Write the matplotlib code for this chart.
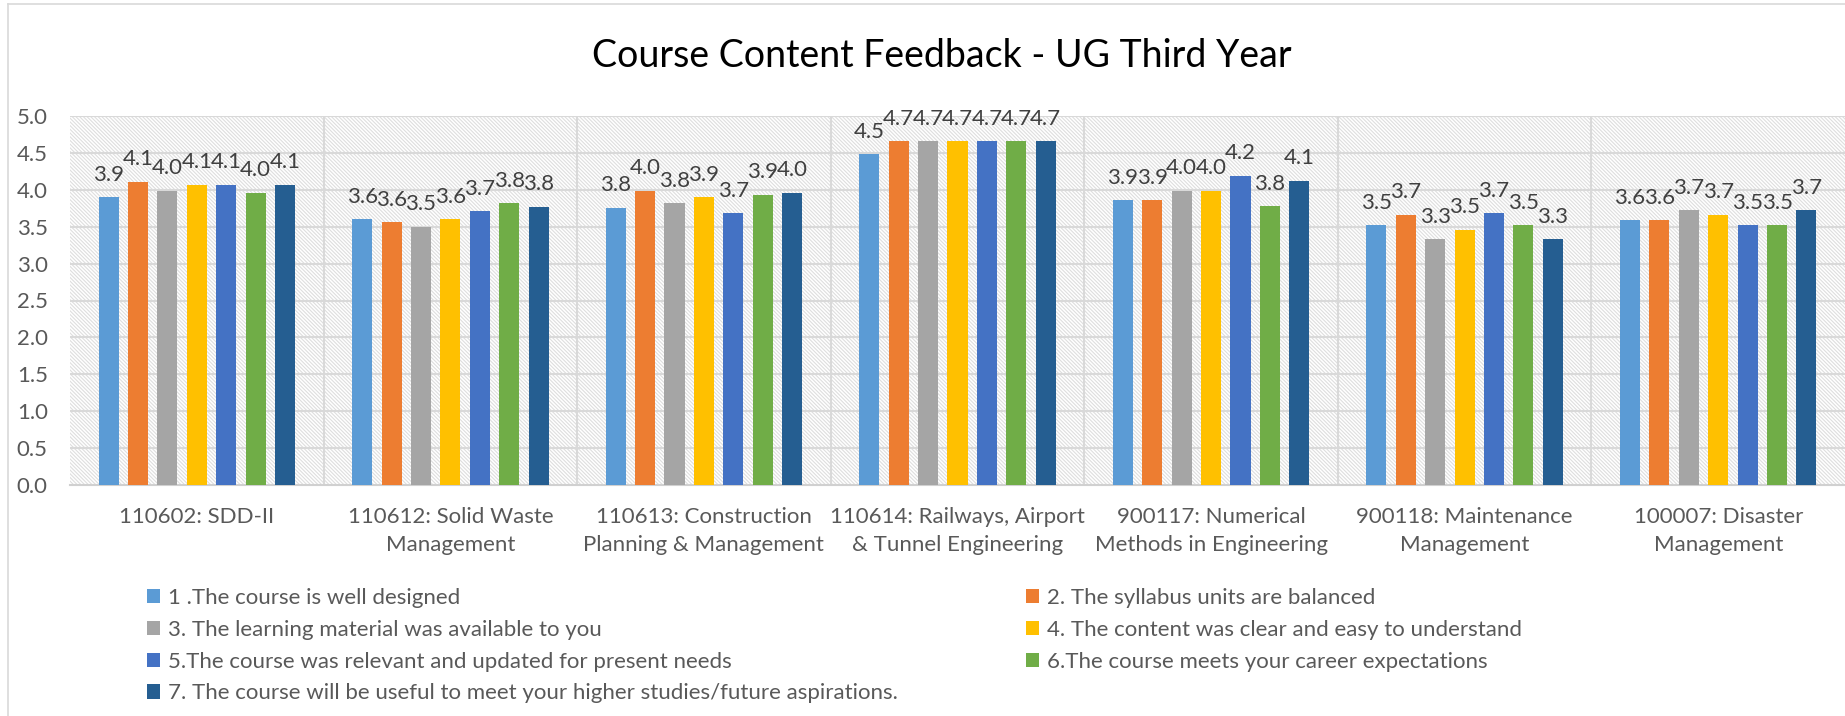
import numpy as np
import matplotlib
matplotlib.use("Agg")
import matplotlib.pyplot as plt
from matplotlib.patches import Rectangle
from matplotlib.lines import Line2D

plt.rcParams['font.family'] = ['Lato', 'DejaVu Sans']
plt.rcParams['hatch.linewidth'] = 0.8

courses = ["110602: SDD-II",
           "110612: Solid Waste\nManagement",
           "110613: Construction\nPlanning & Management",
           "110614: Railways, Airport\n& Tunnel Engineering",
           "900117: Numerical\nMethods in Engineering",
           "900118: Maintenance\nManagement",
           "100007: Disaster\nManagement"]

questions = ["1 .The course is well designed",
             "2. The syllabus units are balanced",
             "3. The learning material was available to you",
             "4. The content was clear and easy to understand",
             "5.The course was relevant and updated for present needs",
             "6.The course meets your career expectations",
             "7. The course will be useful to meet your higher studies/future aspirations."]

q1 = [3.90, 3.60, 3.76, 4.48, 3.86, 3.52, 3.59]
q2 = [4.11, 3.56, 3.99, 4.66, 3.86, 3.66, 3.59]
q3 = [3.99, 3.50, 3.82, 4.66, 3.99, 3.33, 3.72]
q4 = [4.07, 3.60, 3.90, 4.66, 3.99, 3.46, 3.66]
q5 = [4.07, 3.71, 3.68, 4.66, 4.19, 3.68, 3.52]
q6 = [3.96, 3.82, 3.93, 4.66, 3.78, 3.52, 3.52]
q7 = [4.07, 3.77, 3.96, 4.66, 4.12, 3.33, 3.72]
series = [q1, q2, q3, q4, q5, q6, q7]

colors = ["#5B9BD5", "#ED7D31", "#A5A5A5", "#FFC000", "#4472C4", "#70AD47", "#255E91"]

fig = plt.figure(figsize=(18.45, 7.16), dpi=100)
ax = fig.add_axes([70/1845, 1-485/716, 1-70/1845, (485-116)/716])

# hatched plot background
bg = Rectangle((0, 0), 1, 1, transform=ax.transAxes, facecolor="white",
               edgecolor="#dedede", hatch="\\" * 9, linewidth=0, zorder=0)
ax.add_patch(bg)
ax.patch.set_visible(False)

x = np.arange(len(courses))
pitch = 0.116
width = 0.079
for i, (vals, c, q) in enumerate(zip(series, colors, questions)):
    bars = ax.bar(x + (i - 3) * pitch, vals, width, color=c, label=q, zorder=3)
    ax.bar_label(bars, labels=["{:.1f}".format(v) for v in vals], padding=9,
                 fontsize=16, color="#404040")

ax.set_xlim(-0.5, len(courses) - 0.5)
ax.set_ylim(0, 5)
ax.set_yticks(np.arange(0, 5.01, 0.5))
ax.set_yticklabels(["{:.1f}".format(t) for t in np.arange(0, 5.01, 0.5)])
ax.set_xticks(x)
ax.set_xticklabels(courses, linespacing=1.5)
ax.tick_params(axis="y", length=0, pad=16, labelsize=16, labelcolor="#595959")
ax.tick_params(axis="x", length=0, pad=16, labelsize=16, labelcolor="#595959")

for y in np.arange(0.5, 5.01, 0.5):
    ax.axhline(y, color="#d9d9d9", linewidth=1.5, zorder=1)
for b in np.arange(0.5, len(courses) - 0.6, 1):
    ax.axvline(b, color="#d9d9d9", linewidth=1.5, zorder=1)
for s in ["top", "right", "left"]:
    ax.spines[s].set_visible(False)
ax.spines["bottom"].set_color("#d0d0d0")
ax.spines["bottom"].set_linewidth(1.5)

fig.text(942/1845, 1-56/716, "Course Content Feedback - UG Third Year",
         ha="center", va="center", fontsize=27, color="black")

# chart border
fig.add_artist(Line2D([8/1845, 8/1845], [0, 1-4/716], color="#d9d9d9", lw=1.2))
fig.add_artist(Line2D([8/1845, 1], [1-4/716, 1-4/716], color="#d9d9d9", lw=1.2))

handles, labels = ax.get_legend_handles_labels()
leg_kw = dict(frameon=False, fontsize=16, labelcolor="#595959", loc="upper left",
              handlelength=0.6, handleheight=0.6, handletextpad=0.35,
              labelspacing=0.53, borderpad=0, borderaxespad=0)
left_idx = [0, 2, 4, 6]
right_idx = [1, 3, 5]
leg1 = fig.legend([handles[i] for i in left_idx], [labels[i] for i in left_idx],
                  bbox_to_anchor=(147/1845, 1-588/716), **leg_kw)
leg2 = fig.legend([handles[i] for i in right_idx], [labels[i] for i in right_idx],
                  bbox_to_anchor=(1026/1845, 1-588/716), **leg_kw)

fig.savefig("out.png", dpi=100)
